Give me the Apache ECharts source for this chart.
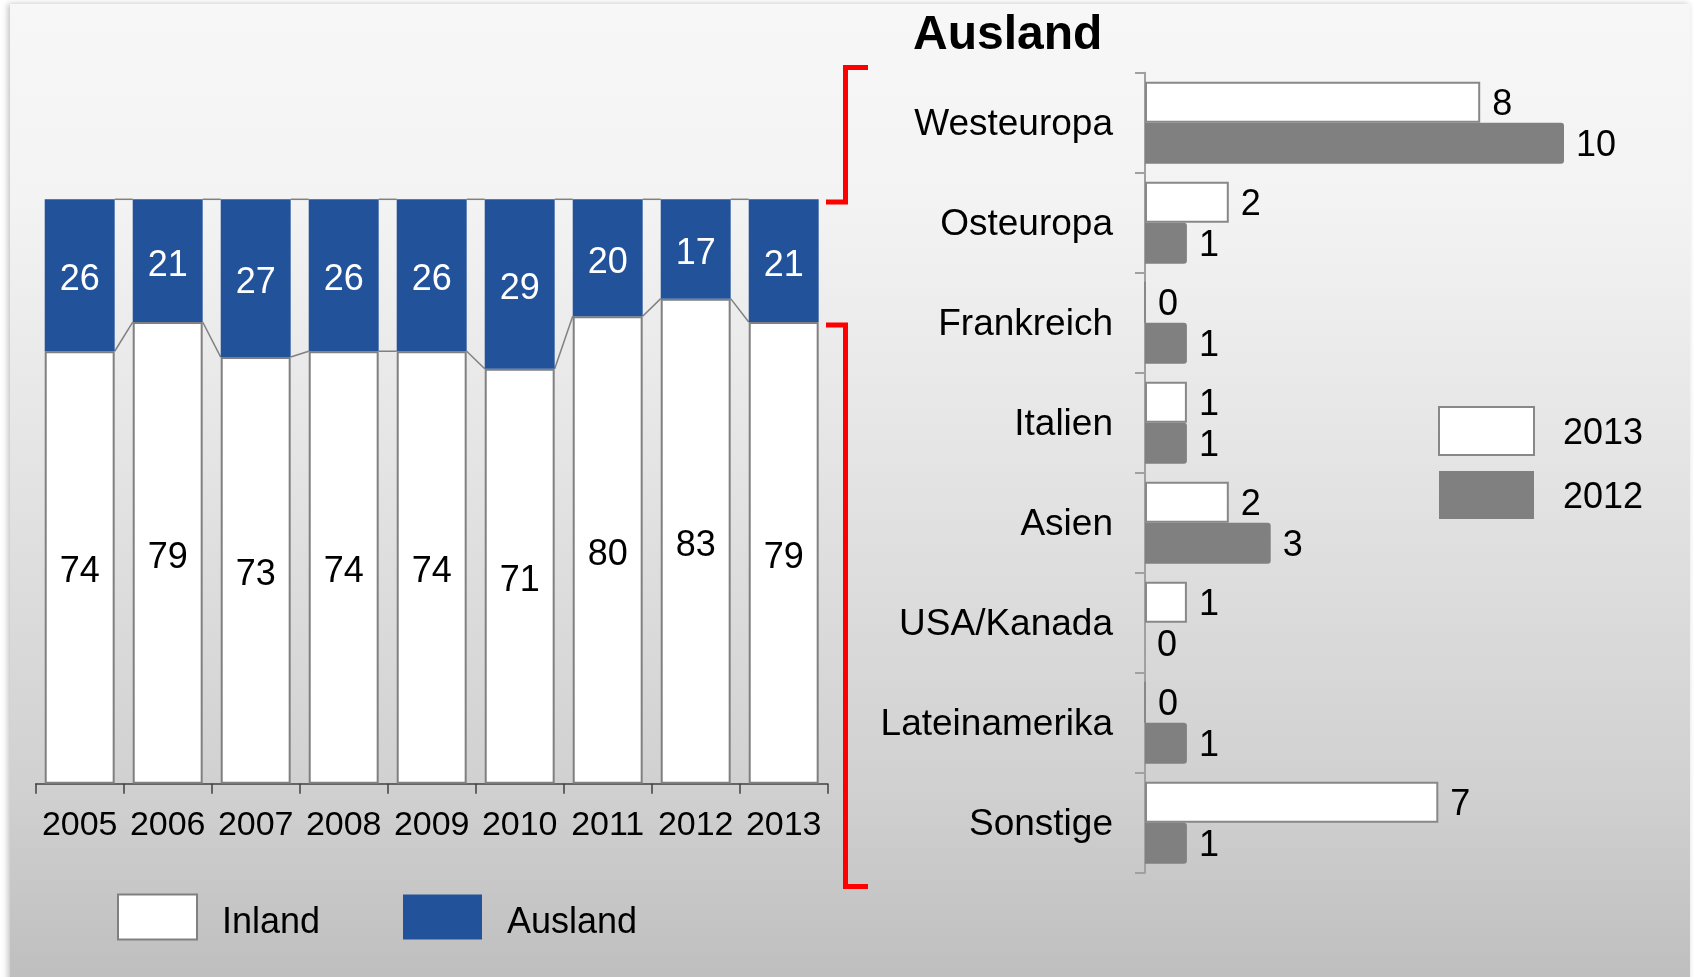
<!DOCTYPE html>
<html>
<head>
<meta charset="utf-8">
<script src="https://cdn.jsdelivr.net/npm/echarts@6/dist/echarts.min.js"></script>
<style>
  html, body { margin: 0; padding: 0; background: #fff; }
  #chart { width: 1694px; height: 977px; }
</style>
</head>
<body>
<div id="chart"></div>
<script>
// data
var years = ['2005', '2006', '2007', '2008', '2009', '2010', '2011', '2012', '2013'];
var inland = [74, 79, 73, 74, 74, 71, 80, 83, 79];
var ausland = [26, 21, 27, 26, 26, 29, 20, 17, 21];

var regions = ['Westeuropa', 'Osteuropa', 'Frankreich', 'Italien', 'Asien', 'USA/Kanada', 'Lateinamerika', 'Sonstige'];
var share2013 = [8, 2, 0, 1, 2, 1, 0, 7];
var share2012 = [10, 1, 1, 1, 3, 0, 1, 1];

var FONT = "'Liberation Sans', Arial, sans-serif";
var BAR_W = 0.795;

// connecting lines between neighbouring stacked columns (like Excel "series lines")
var lineData = years.slice(0, -1).map(function (y, i) {
  return [i, inland[i], inland[i + 1], inland[i] + ausland[i], inland[i + 1] + ausland[i + 1]];
});

function renderSeriesLines(params, api) {
  var half = api.size([1, 0])[0] * BAR_W / 2;
  var i = api.value(0);
  var a = api.coord([i, api.value(1)]);
  var b = api.coord([i + 1, api.value(2)]);
  var ta = api.coord([i, api.value(3)]);
  var tb = api.coord([i + 1, api.value(4)]);
  var st = { stroke: '#808080', lineWidth: 1.5 };
  return {
    type: 'group',
    children: [
      { type: 'line', shape: { x1: a[0] + half, y1: a[1], x2: b[0] - half, y2: b[1] }, style: st },
      { type: 'line', shape: { x1: ta[0] + half, y1: ta[1], x2: tb[0] - half, y2: tb[1] }, style: st }
    ]
  };
}

// push a text a few px down: an invisible spacer line on top of it
function lowered(text) {
  return '{s| }\n' + text;
}

var chart = echarts.init(document.getElementById('chart'));

var option = {
  animation: false,
  textStyle: { fontFamily: FONT },
  title: {
    text: 'Ausland',
    left: 913,
    top: 12,
    padding: 0,
    textStyle: { fontSize: 48, fontWeight: 'bold', color: '#000', fontFamily: FONT }
  },
  legend: [
    {
      data: ['Inland'], left: 117, top: 891, padding: 0, icon: 'rect',
      itemWidth: 79, itemHeight: 45, formatter: lowered,
      textStyle: { fontSize: 36, lineHeight: 40, color: '#000', padding: [0, 0, 0, 20],
        rich: { s: { fontSize: 2, lineHeight: 12 } } }
    },
    {
      data: ['Ausland'], left: 403, top: 891, padding: 0, icon: 'rect',
      itemWidth: 79, itemHeight: 45, formatter: lowered,
      textStyle: { fontSize: 36, lineHeight: 40, color: '#000', padding: [0, 0, 0, 20],
        rich: { s: { fontSize: 2, lineHeight: 12 } } }
    },
    {
      data: ['2013', '2012'], left: 1438, top: 406, padding: 0, icon: 'rect',
      orient: 'vertical', itemGap: 15, formatter: lowered,
      itemWidth: 95, itemHeight: 48,
      textStyle: { fontSize: 36, lineHeight: 40, color: '#000', padding: [0, 0, 0, 24],
        rich: { s: { fontSize: 2, lineHeight: 6 } } }
    }
  ],
  grid: [
    { left: 35.7, top: 199.3, width: 792, height: 584.4 },
    { left: 1145, top: 72.7, width: 419, height: 800 }
  ],
  xAxis: [
    {
      type: 'category', gridIndex: 0, data: years,
      axisLine: { lineStyle: { color: '#404040', width: 1.5 } },
      axisTick: { show: true, length: 10, lineStyle: { color: '#404040', width: 1.5 } },
      axisLabel: { interval: 0, fontSize: 34, color: '#000', margin: 25 }
    },
    { type: 'value', gridIndex: 1, min: 0, max: 10, show: false }
  ],
  yAxis: [
    { type: 'value', gridIndex: 0, min: 0, max: 100, show: false },
    {
      type: 'category', gridIndex: 1, data: regions, inverse: true,
      axisLine: { show: true, lineStyle: { color: '#a0a0a0', width: 2 } },
      axisTick: { show: true, inside: false, length: 10, lineStyle: { color: '#a0a0a0', width: 2 } },
      axisLabel: {
        interval: 0, fontSize: 37, lineHeight: 42, color: '#000', margin: 32,
        formatter: lowered, rich: { s: { fontSize: 2, lineHeight: 5 } }
      },
      splitLine: { show: false }
    }
  ],
  series: [
    {
      name: 'Inland', type: 'bar', stack: 'total', barWidth: (BAR_W * 100) + '%',
      xAxisIndex: 0, yAxisIndex: 0, data: inland,
      itemStyle: { color: '#ffffff', borderColor: '#808080', borderWidth: 2 },
      label: { show: true, position: 'inside', offset: [0, 5], fontSize: 36, color: '#000' }
    },
    {
      name: 'Ausland', type: 'bar', stack: 'total',
      xAxisIndex: 0, yAxisIndex: 0, data: ausland,
      itemStyle: { color: '#22539a' },
      label: { show: true, position: 'inside', offset: [0, 5], fontSize: 36, color: '#fff' }
    },
    {
      name: 'lines', type: 'custom', xAxisIndex: 0, yAxisIndex: 0,
      silent: true, data: lineData, renderItem: renderSeriesLines, z: 1
    },
    {
      name: '2013', type: 'bar', xAxisIndex: 1, yAxisIndex: 1, data: share2013,
      barCategoryGap: '18%', barGap: '0%',
      itemStyle: { color: '#ffffff', borderColor: '#888888', borderWidth: 2 },
      label: { show: true, position: 'right', distance: 12, offset: [0, 3], fontSize: 36, color: '#000' }
    },
    {
      name: '2012', type: 'bar', xAxisIndex: 1, yAxisIndex: 1, data: share2012,
      barCategoryGap: '18%', barGap: '0%',
      itemStyle: { color: '#808080', borderRadius: [0, 3, 3, 0] },
      label: { show: true, position: 'right', distance: 12, offset: [0, 3], fontSize: 36, color: '#000' }
    }
  ],
  graphic: [
    {
      type: 'rect', z: -10, silent: true,
      shape: { x: 10, y: 4, width: 1680, height: 990 },
      style: {
        fill: new echarts.graphic.LinearGradient(0, 0, 0, 1, [
          { offset: 0, color: '#f7f7f7' },
          { offset: 0.2, color: '#f3f3f3' },
          { offset: 0.45, color: '#e5e5e5' },
          { offset: 0.8, color: '#d0d0d0' },
          { offset: 1, color: '#bdbdbd' }
        ]),
        shadowBlur: 6, shadowColor: 'rgba(0,0,0,0.25)', shadowOffsetX: -2
      }
    },
    // red brackets
    {
      type: 'polyline', z: 100, silent: true,
      shape: { points: [[868, 67.5], [845.5, 67.5], [845.5, 202], [826, 202]] },
      style: { stroke: '#ff0000', lineWidth: 5, fill: null, lineJoin: 'miter' }
    },
    {
      type: 'polyline', z: 100, silent: true,
      shape: { points: [[826, 325], [845.5, 325], [845.5, 886.5], [868, 886.5]] },
      style: { stroke: '#ff0000', lineWidth: 5, fill: null, lineJoin: 'miter' }
    }
  ]
};

chart.setOption(option);
</script>
</body>
</html>
